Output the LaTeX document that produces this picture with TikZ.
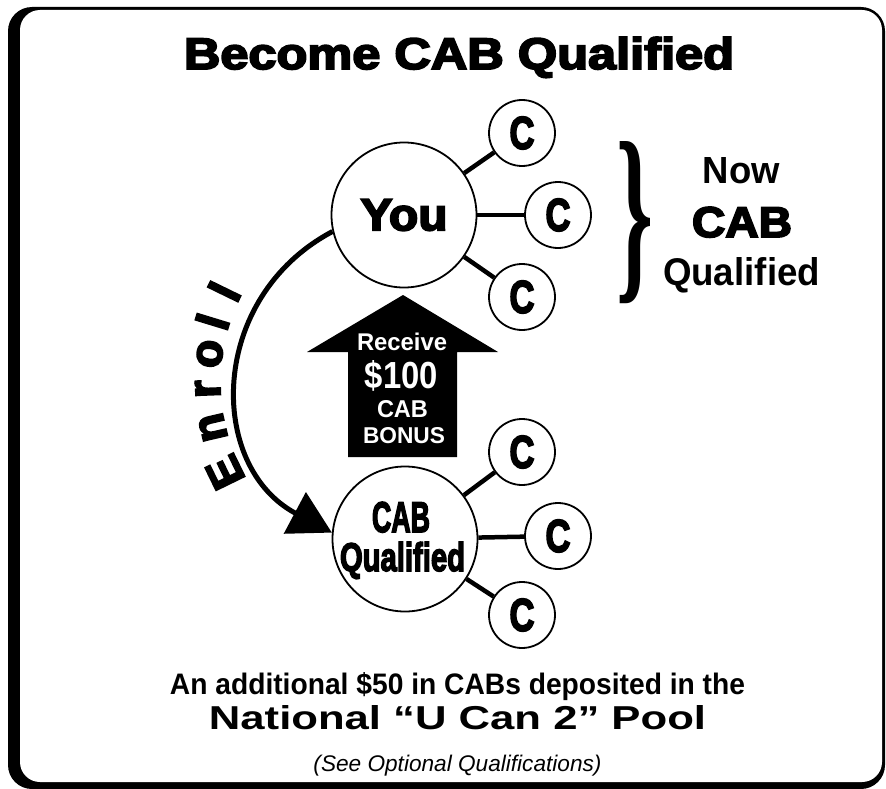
\documentclass[tikz,border=0pt]{standalone}
\usepackage{fontspec}
\usepackage{graphicx}
\setmainfont{Liberation Sans}
\newfontfamily\heavy{Liberation Sans}[BoldFeatures={FakeBold=4}, UprightFeatures={FakeBold=4}]
\newfontfamily\bracefont{Liberation Serif}
\usetikzlibrary{arrows.meta,calc}
\newcommand\fitbox[3]{\resizebox{#1pt}{#2pt}{#3}}
\newcommand\fitw[2]{\resizebox{#1pt}{!}{#2}}
\begin{document}
\begin{tikzpicture}[x=1pt,y=1pt,
  circ/.style={circle, draw, line width=1.8pt, fill=white, inner sep=0pt},
  bigc/.style={circ, minimum size=145pt},
  smallc/.style={circ, minimum size=66pt},
  conn/.style={line width=4.5pt},
  lbl/.style={inner sep=0pt, anchor=base},
  enl/.style={inner sep=0pt, anchor=base, font=\heavy\bfseries\fontsize{46}{46}\selectfont}
]
\useasboundingbox (0,0) rectangle (886,-789);
% frame
\fill[rounded corners=24pt] (8,-7) rectangle (885,-789);
\fill[white, rounded corners=20pt] (20,-10) rectangle (882,-782);

% title
\node[lbl] (title) at (459,-69) {\fitbox{550}{32}{\heavy\bfseries Become CAB Qualified}};

% block arrow
\fill (403,-295) -- (498,-352) -- (457,-352) -- (457,-457) -- (348,-457) -- (348,-352) -- (307,-352) -- cycle;
\node[lbl, text=white] (r1) at (402,-350) {\fitbox{90}{17.5}{\bfseries Receive}};
\node[lbl, text=white] (r2) at (401.5,-388) {\fitbox{73}{28}{\bfseries\$100}};
\node[lbl, text=white] (r3) at (402.5,-417) {\fitbox{51}{17}{\bfseries CAB}};
\node[lbl, text=white] (r4) at (404,-443) {\fitbox{82}{16}{\bfseries BONUS}};

% top group
\node[bigc] (you) at (404,-215) {\fitbox{87}{31}{\heavy\bfseries You}};
\node[smallc] (c1) at (522,-133) {\fitbox{25}{32}{\heavy\bfseries C}};
\node[smallc] (c2) at (558,-215) {\fitbox{25}{32}{\heavy\bfseries C}};
\node[smallc] (c3) at (522,-297) {\fitbox{25}{32}{\heavy\bfseries C}};
\draw[conn] (you) -- (c1);
\draw[conn] (you) -- (c2);
\draw[conn] (you) -- (c3);

% bottom group
\node[bigc] (cabq) at (405,-539) {};
\node[lbl] (cq1) at (401,-532) {\fitbox{58}{30}{\heavy\bfseries CAB}};
\node[lbl] (cq2) at (402.5,-571) {\fitbox{125}{29}{\heavy\bfseries Qualified}};
\node[smallc] (c4) at (522,-452) {\fitbox{25}{32}{\heavy\bfseries C}};
\node[smallc] (c5) at (558,-536) {\fitbox{25}{32}{\heavy\bfseries C}};
\node[smallc] (c6) at (522,-615) {\fitbox{25}{32}{\heavy\bfseries C}};
\draw[conn] (cabq) -- (c4);
\draw[conn] (cabq) -- (c5);
\draw[conn] (cabq) -- (c6);

% enroll arrow
\coordinate (cen) at (410,-382);
\draw[line width=5pt, -{Triangle[length=42pt,width=46pt]}] (you.193) to[out=208,in=152,looseness=1.2] (cabq.175);
\foreach \a/\L/\n in {206/E/e1, 193/n/e2, 182/r/e3, 172/o/e4, 163/l/e5, 154/l/e6}
  \node[enl, rotate=\a-90] (\n) at ($(cen)+(\a:190)$) {\L};

% brace and right text
\node[inner sep=0pt] (brace) at (635,-222.5) {\resizebox*{37pt}{162pt}{\bracefont\bfseries\}}};
\node[lbl] (now) at (741.5,-183) {\fitbox{77}{26}{\bfseries Now}};
\node[lbl] (cab2) at (742,-237) {\fitbox{100}{30}{\heavy\bfseries CAB}};
\node[lbl] (qual2) at (741.5,-285) {\fitbox{157}{28}{\bfseries Qualified}};

% bottom text
\node[lbl] (b1) at (457.5,-694) {\fitbox{575}{22}{\bfseries An additional \$50 in CABs deposited in the}};
\node[lbl] (b2) at (457.5,-729) {\fitbox{497}{24}{\bfseries National “U Can 2” Pool}};
\node[lbl] (b3) at (457.5,-771) {\fitw{288}{\itshape (See Optional Qualifications)}};
\end{tikzpicture}
\end{document}
